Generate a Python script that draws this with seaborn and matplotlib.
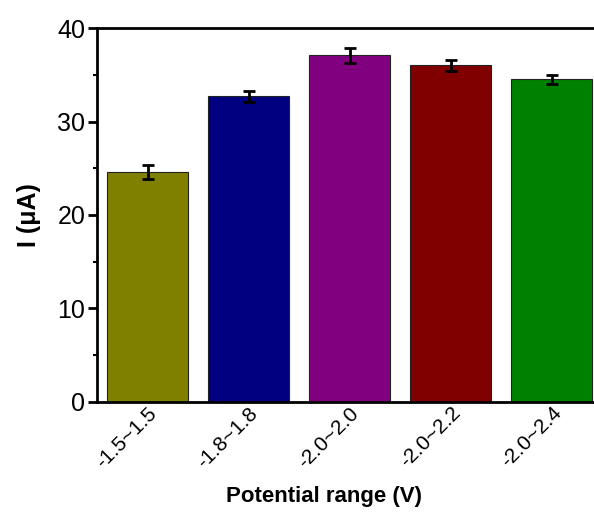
import numpy as np
import pandas as pd
import matplotlib
matplotlib.use("Agg")
import matplotlib.pyplot as plt
import seaborn as sns
from matplotlib.ticker import MultipleLocator

# Current response for each potential window
ranges = ["-1.5~1.5", "-1.8~1.8", "-2.0~2.0", "-2.0~2.2", "-2.0~2.4"]
current = [24.6, 32.7, 37.1, 36.0, 34.5]
error = [0.7, 0.6, 0.8, 0.6, 0.5]
colors = ["#808000", "#000080", "#800080", "#800000", "#008000"]

sns.set_theme(style="ticks", rc={"text.color": "black", "axes.labelcolor": "black",
                                 "xtick.color": "black", "ytick.color": "black"})
plt.rcParams["font.family"] = ["Liberation Sans", "DejaVu Sans"]

df = pd.DataFrame({"range": ranges, "current": current})

fig = plt.figure(figsize=(5.94, 5.13), dpi=100)
ax = fig.add_axes([0.1633, 0.2164, 0.8502, 0.729])

sns.barplot(data=df, x="range", y="current", hue="range", palette=colors,
            legend=False, width=0.81, edgecolor="#222222", linewidth=0.8,
            saturation=1, ax=ax)
ax.errorbar(np.arange(len(ranges)), current, yerr=error, fmt="none",
            ecolor="black", elinewidth=2, capsize=4, capthick=2, zorder=5)

ax.set_xlim(-0.5, len(ranges) - 0.5)
ax.set_ylim(0, 40)
ax.yaxis.set_major_locator(MultipleLocator(10))
ax.yaxis.set_minor_locator(MultipleLocator(5))
ax.tick_params(axis="y", which="major", direction="out", length=6.5, width=2,
               labelsize=18, pad=2)
ax.tick_params(axis="y", which="minor", direction="out", length=3, width=1.5)
ax.tick_params(axis="x", length=0, labelsize=15, pad=1)
plt.setp(ax.get_xticklabels(), rotation=45, ha="right", rotation_mode="anchor")

for s in ["left", "bottom", "top", "right"]:
    ax.spines[s].set_linewidth(2)
    ax.spines[s].set_color("black")
    ax.spines[s].set_visible(True)

ax.set_xlabel("Potential range (V)", fontsize=16, fontweight="bold")
ax.set_ylabel("I (\u03bcA)", fontsize=18, fontweight="bold")
ax.xaxis.set_label_coords(0.45, -0.225)
ax.yaxis.set_label_coords(-0.11, 0.5)

fig.savefig("out.png", dpi=100)
